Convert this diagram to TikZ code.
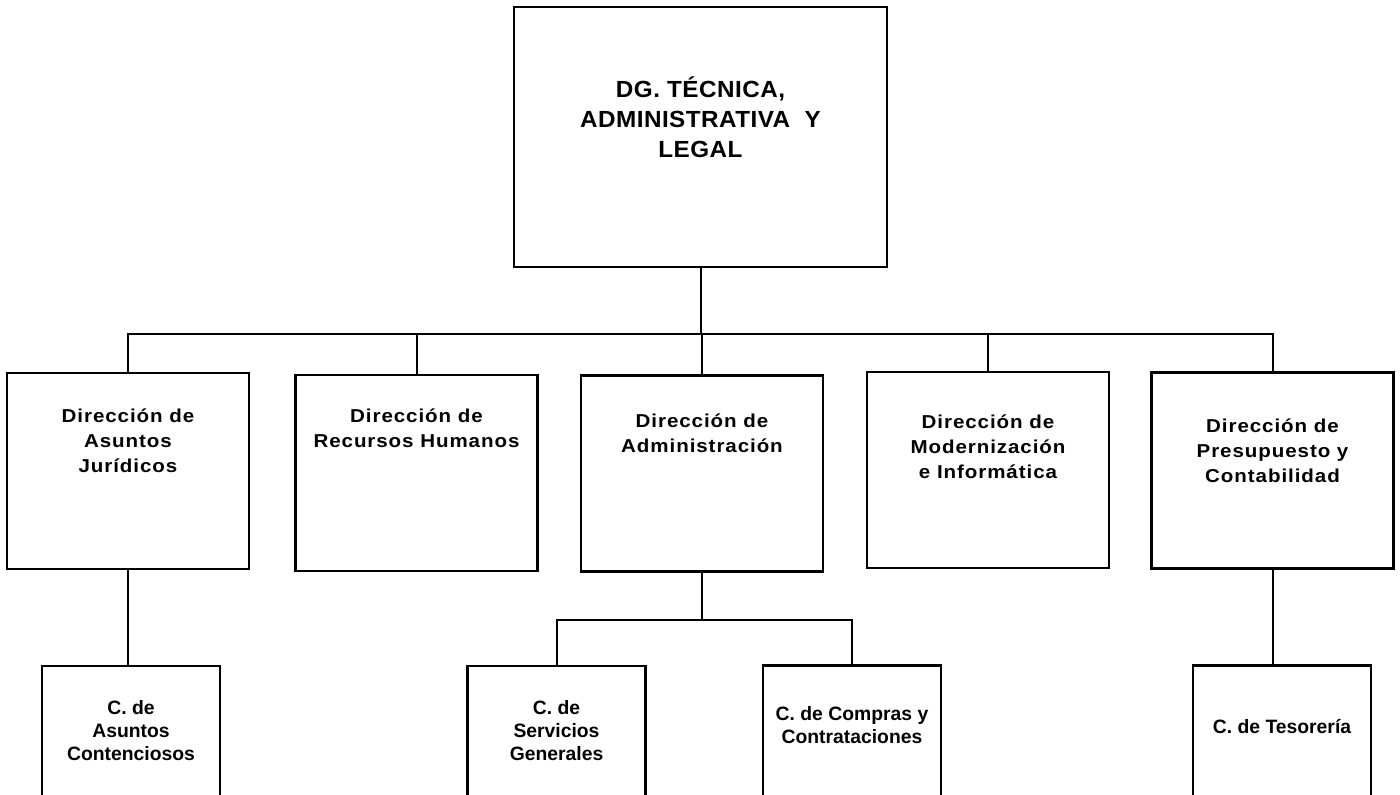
\documentclass[tikz,border=0pt]{standalone}
\usepackage{fontspec}
\setmainfont{Liberation Sans}
\newfontfamily\topfont{Liberation Sans}[LetterSpace=2,FakeStretch=1.04]
\newfontfamily\secfont{Liberation Sans}[LetterSpace=5,FakeStretch=1.1]
\newcommand\mystack[1]{\begin{tabular}[t]{@{}c@{}}#1\end{tabular}}
\tikzset{
  box/.style={draw=black, line width=1.6pt, rectangle, inner sep=0pt, fill=white},
  topbox/.style={box, minimum width=279.75pt, minimum height=195pt},
  secbox/.style={box, minimum width=181.5pt, minimum height=147pt},
  subbox/.style={box, minimum width=133.5pt, minimum height=108pt},
  conn/.style={draw=black, line width=1.5pt},
  toplbl/.style={inner sep=0pt, anchor=base, font=\topfont\bfseries\fontsize{17.5}{22.5}\selectfont},
  seclbl/.style={inner sep=0pt, anchor=base, font=\secfont\bfseries\fontsize{14}{19}\selectfont},
  sublbl/.style={inner sep=0pt, anchor=base, font=\bfseries\fontsize{14.5}{17.25}\selectfont},
}
\begin{document}
\begin{tikzpicture}[x=0.75pt, y=-0.75pt]
\useasboundingbox (0,0) rectangle (1400,794);
\clip (0,0) rectangle (1400,794);
% boxes
\node[topbox] (top) at (700.5,137) {};
\node[secbox] (b1) at (128,471) {};
\node[secbox] (b2) at (416.5,473) {};
\node[secbox] (b3) at (702,473.5) {};
\node[secbox] (b4) at (988,470) {};
\node[secbox] (b5) at (1272.5,470.5) {};
\node[subbox] (c1) at (131,738) {};
\node[subbox] (c2) at (556.5,738) {};
\node[subbox] (c3) at (852,737.5) {};
\node[subbox] (c4) at (1282,737.5) {};
% labels
\node[toplbl] (ttop) at (700.5,97) {\mystack{DG. TÉCNICA,\\ADMINISTRATIVA\ \ Y\\LEGAL}};
\node[seclbl] (t1) at (128,422) {\mystack{Dirección de\\Asuntos\\Jurídicos}};
\node[seclbl] (t2) at (416.5,422) {\mystack{Dirección de\\Recursos Humanos}};
\node[seclbl] (t3) at (702,427) {\mystack{Dirección de\\Administración}};
\node[seclbl] (t4) at (988,428) {\mystack{Dirección de\\Modernización\\e Informática}};
\node[seclbl] (t5) at (1272.5,432) {\mystack{Dirección de\\Presupuesto y\\Contabilidad}};
\node[sublbl] (s1) at (131,714) {\mystack{C. de\\Asuntos\\Contenciosos}};
\node[sublbl] (s2) at (556.5,714) {\mystack{C. de\\Servicios\\Generales}};
\node[sublbl] (s3) at (852,720) {\mystack{C. de Compras y\\Contrataciones}};
\node[sublbl] (s4) at (1282,733) {\mystack{C. de Tesorería}};
% connectors
\coordinate (bus) at (700.5,334);
\coordinate (sbus) at (702,620);
\draw[conn] (top.south) -- (bus);
\draw[conn] (b1.north) -- (b1.north |- bus) -- (b5.north |- bus) -- (b5.north);
\draw[conn] (b2.north) -- (b2.north |- bus);
\draw[conn] (b3.north) -- (b3.north |- bus);
\draw[conn] (b4.north) -- (b4.north |- bus);
\draw[conn] (b1.south) -- (b1.south |- c1.north);
\draw[conn] (b3.south) -- (sbus);
\draw[conn] (c2.north) -- (c2.north |- sbus) -- (c3.north |- sbus) -- (c3.north);
\draw[conn] (b5.south) -- (b5.south |- c4.north);
\end{tikzpicture}
\end{document}
